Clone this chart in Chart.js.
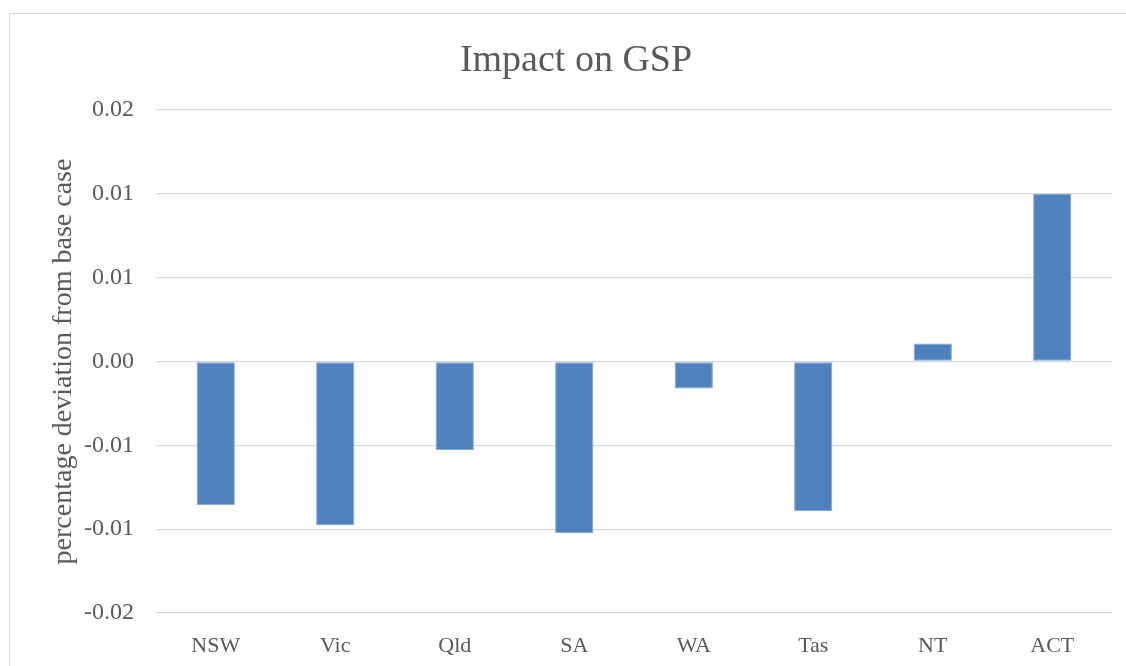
<!DOCTYPE html>
<html>
<head>
<meta charset="utf-8">
<script src="https://cdn.jsdelivr.net/npm/chart.js@4/dist/chart.umd.min.js"></script>
<style>
  html, body { margin: 0; padding: 0; background: #fff; overflow: hidden; }
  #wrap { position: relative; width: 1126px; height: 666px; }
  #frame { position: absolute; left: 9px; top: 13px; width: 1130px; height: 670px; border: 1px solid #d9d9d9; box-sizing: border-box; }
  #gsp-chart { position: absolute; left: 0; top: 0; }
</style>
</head>
<body>
<div id="wrap">
  <div id="frame"></div>
  <canvas id="gsp-chart" width="1126" height="666"></canvas>
</div>
<script>
const states = ['NSW', 'Vic', 'Qld', 'SA', 'WA', 'Tas', 'NT', 'ACT'];
const gspDeviation = [-0.00857, -0.00976, -0.0053, -0.01024, -0.00161, -0.00893, 0.00107, 0.0100];
// Excel rounds the 0.005 steps to two decimals, so the labels repeat
const yTickValues = [0.015, 0.01, 0.005, 0, -0.005, -0.01, -0.015];
const yTickLabels = ['0.02', '0.01', '0.01', '0.00', '-0.01', '-0.01', '-0.02'];

const textColor = '#595959';
const gridColor = '#d9d9d9';
const serif = "'Liberation Serif', 'DejaVu Serif', serif";

const chartCanvas = document.getElementById('gsp-chart');

const chartInstance = new Chart(chartCanvas, {
    type: 'bar',
    data: {
        labels: states,
        datasets: [{
            label: 'Impact on GSP',
            data: gspDeviation,
            backgroundColor: '#4f81bd',
            borderColor: '#7fa3d1',
            borderWidth: 1,
            borderSkipped: false,
            categoryPercentage: 1,
            barPercentage: 0.32
        }]
    },
    options: {
        responsive: false,
        animation: false,
        layout: { padding: { left: 40, right: 14, top: 0, bottom: 0 } },
        scales: {
            x: {
                grid: { display: false },
                border: { display: false },
                ticks: { color: textColor, font: { family: serif, size: 22 }, padding: 12 },
                afterFit: scale => { scale.height = 53; }
            },
            y: {
                min: -0.015, max: 0.015,
                afterBuildTicks: scale => { scale.ticks = yTickValues.map(v => ({ value: v })); },
                grid: { color: gridColor, lineWidth: 1.3, drawTicks: false },
                border: { display: false },
                ticks: {
                    color: textColor, font: { family: serif, size: 24 }, padding: 22,
                    callback: (value, i) => yTickLabels[i]
                },
                title: {
                    display: true, text: 'percentage deviation from base case',
                    color: textColor, font: { family: serif, size: 28 }, padding: { top: 7, bottom: 0 }
                },
                afterFit: scale => { scale.width = 116; }
            }
        },
        plugins: {
            legend: { display: false },
            tooltip: { enabled: false },
            title: {
                display: true, text: 'Impact on GSP',
                color: textColor, font: { family: serif, size: 38, weight: 'normal' },
                padding: { top: 38, bottom: 26.4 }
            }
        }
    }
});
</script>
</body>
</html>
